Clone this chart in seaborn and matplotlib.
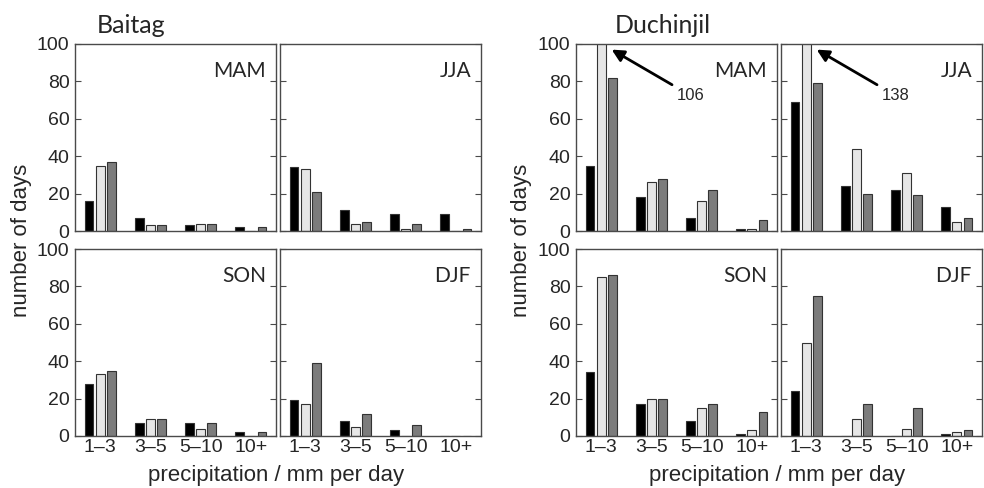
import numpy as np
import pandas as pd
import matplotlib
matplotlib.use('Agg')
import matplotlib.pyplot as plt
import seaborn as sns

# ── data ─────────────────────────────────────────────────────────────────────
bins = ['1–3', '3–5', '5–10', '10+']
series = ['obs', 'run1', 'run2']
seasons = ['MAM', 'JJA', 'SON', 'DJF']

# rows = bins, columns = series
baitag_mam = [[16, 35, 37], [7, 3, 3], [3, 4, 4], [2, 0, 2]]
baitag_jja = [[34, 33, 21], [11, 4, 5], [9, 1, 4], [9, 0, 1]]
baitag_son = [[28, 33, 35], [7, 9, 9], [7, 4, 7], [2, 0, 2]]
baitag_djf = [[19, 17, 39], [8, 5, 12], [3, 0, 6], [0, 0, 0]]

duch_mam = [[35, 106, 82], [18, 26, 28], [7, 16, 22], [1, 1, 6]]
duch_jja = [[69, 138, 79], [24, 44, 20], [22, 31, 19], [13, 5, 7]]
duch_son = [[34, 85, 86], [17, 20, 20], [8, 15, 17], [1, 3, 13]]
duch_djf = [[24, 50, 75], [0, 9, 17], [0, 4, 15], [1, 2, 3]]

stations = {
    'Baitag': [baitag_mam, baitag_jja, baitag_son, baitag_djf],
    'Duchinjil': [duch_mam, duch_jja, duch_son, duch_djf],
}

COLS = ['#000000', '#e6e6e6', '#7c7c7c']
EDGE = '#333333'
FRAME = '#4a4a4a'

sns.set_style('white')
plt.rcParams['font.family'] = ['Liberation Sans', 'DejaVu Sans']
TFONT = ['Lato', 'DejaVu Sans']

W, H = 984, 488
fig = plt.figure(figsize=(W / 100, H / 100), dpi=100)


def px_axes(left, top, w, h):
    return fig.add_axes([left / W, (H - top - h) / H, w / W, h / H])


def long_df(vals):
    rows = []
    for b, trio in zip(bins, vals):
        for s, v in zip(series, trio):
            rows.append({'bin': b, 'series': s, 'days': v})
    return pd.DataFrame(rows)


col_left = {'Baitag': [75, 280], 'Duchinjil': [576, 781]}
row_top = [44, 249]
PW, PH = 201, 187

for name, panels in stations.items():
    for k, vals in enumerate(panels):
        r, c = divmod(k, 2)
        ax = px_axes(col_left[name][c], row_top[r], PW, PH)
        df = long_df(vals)
        sns.barplot(data=df, x='bin', y='days', hue='series', order=bins,
                    hue_order=series, palette=COLS, width=0.66, gap=0.2,
                    edgecolor=EDGE, linewidth=0.8, legend=False, ax=ax,
                    errorbar=None, saturation=1)
        ax.set_xlim(-0.5, 3.5)
        ax.set_ylim(0, 100)
        ax.set_yticks([0, 20, 40, 60, 80, 100])
        ax.set_xlabel('')
        ax.set_ylabel('')
        ax.tick_params(axis='y', direction='in', length=4, width=0.8,
                       left=True, right=True, color=FRAME, labelsize=14, pad=4)
        ax.tick_params(axis='x', length=0, labelsize=14, pad=2)
        if c == 1:
            ax.tick_params(axis='y', labelleft=False)
        if r == 0:
            ax.tick_params(axis='x', labelbottom=False)
        for sp in ax.spines.values():
            sp.set_visible(True)
            sp.set_edgecolor(FRAME)
            sp.set_linewidth(1.0)
        ax.text(0.95, 0.855, seasons[k], transform=ax.transAxes, ha='right',
                va='center', fontsize=15, family=TFONT)

        # bars clipped at 100 get an arrow with their value
        top_val = max(trio[1] for trio in vals)
        if top_val > 100:
            ax.annotate(str(top_val), xy=(0.21, 97), xytext=(1.5, 72.5),
                        ha='left', va='center', fontsize=12,
                        arrowprops=dict(arrowstyle='-|>', color='k', lw=2,
                                        mutation_scale=18, shrinkA=1, shrinkB=0))

# station titles and shared labels
fig.text(97 / W, 1 - 33 / H, 'Baitag', fontsize=18, family=TFONT, ha='left',
         va='baseline')
fig.text(615 / W, 1 - 33 / H, 'Duchinjil', fontsize=18, family=TFONT,
         ha='left', va='baseline')
for x_yl, x_xl in [(22, 276), (522, 777)]:
    fig.text(x_yl / W, 1 - 240 / H, 'number of days', rotation=90,
             ha='center', va='center', fontsize=16)
    fig.text(x_xl / W, 1 - 476 / H, 'precipitation / mm per day',
             ha='center', va='center', fontsize=16)

fig.savefig('out.png', dpi=100, facecolor='white')
